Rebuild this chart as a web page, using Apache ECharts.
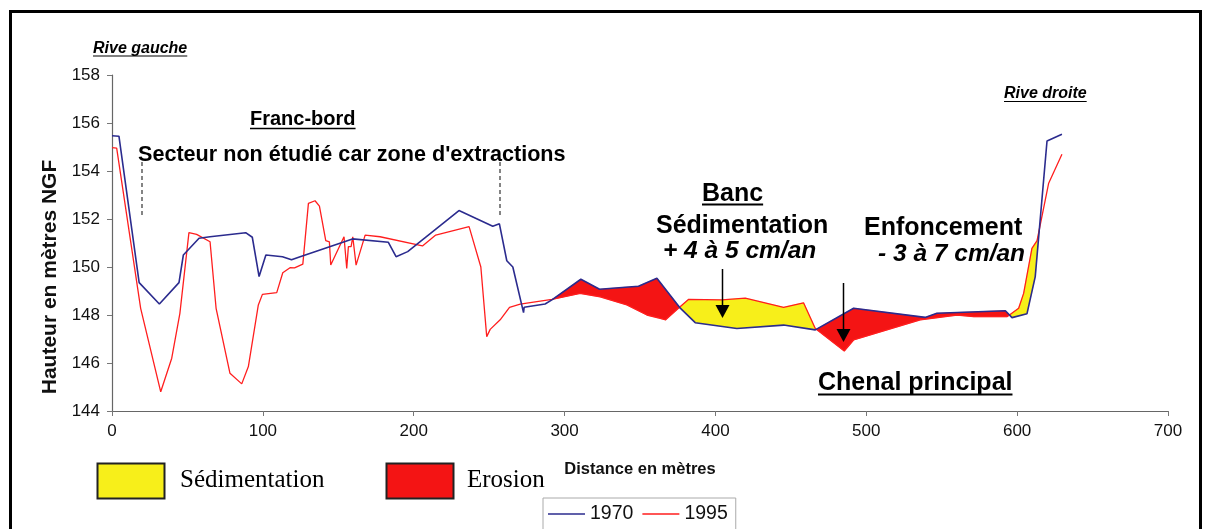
<!DOCTYPE html>
<html><head><meta charset="utf-8">
<script src="https://cdn.jsdelivr.net/npm/echarts@6/dist/echarts.min.js"></script>
<style>html,body{margin:0;padding:0;background:#fff}#c{width:1210px;height:529px}</style>
</head><body><div id="c"></div>
<script>
// ---- data (distance m, height m NGF) ----
const x1970 = [0, 4.6, 18, 31.4, 44.4, 47.3, 57.7, 65, 88.6, 93, 97.5, 102, 113, 119, 124.7, 159.4, 183.2, 188.3, 196, 230, 252.4, 256.8, 261.7, 265.7, 272.8, 273.2, 287.1, 291.6, 310.8, 323.2, 349, 361.2, 376.2, 386.6, 414.2, 445.2, 466.2, 491.6, 539, 546.8, 592.2, 596.6, 606.5, 612, 619.8, 629.7];
const y1970 = [155.47, 155.45, 149.35, 148.46, 149.35, 150.5, 151.2, 151.26, 151.43, 151.24, 149.6, 150.5, 150.43, 150.3, 150.43, 151.17, 151.03, 150.43, 150.64, 152.35, 151.7, 151.8, 150.26, 150.0, 148.1, 148.32, 148.46, 148.63, 149.49, 149.07, 149.2, 149.53, 148.32, 147.68, 147.44, 147.58, 147.38, 148.28, 147.9, 148.07, 148.18, 147.89, 148.05, 149.6, 155.25, 155.53];
const x1995 = [0, 3.1, 19, 32.3, 39.6, 45, 51, 56.1, 65, 69, 78.2, 86, 90.4, 97, 99.7, 109.2, 113.2, 118, 121, 126.5, 130.2, 134.6, 137.5, 141.7, 144.1, 145, 153.8, 155.6, 156.7, 158.5, 159.6, 161.8, 167.8, 177.7, 205.8, 214.6, 236.7, 244.5, 248.4, 250.7, 257.3, 263.5, 270.6, 291.6, 310.3, 323.6, 341.3, 354.6, 363.4, 367, 376.2, 382.1, 404.3, 419.8, 445.2, 458.4, 466.2, 485.4, 491.6, 535.8, 560.2, 571.2, 593.3, 601, 604.3, 609.8, 613.2, 620.9, 629.7];
const y1995 = [154.97, 154.95, 148.28, 144.8, 146.2, 148.07, 151.43, 151.36, 151.05, 148.28, 145.57, 145.13, 145.85, 148.42, 148.86, 148.93, 149.76, 149.97, 149.96, 150.12, 152.65, 152.76, 152.54, 151.1, 151.05, 150.08, 151.26, 149.94, 150.85, 150.85, 151.26, 150.08, 151.33, 151.26, 150.88, 151.33, 151.68, 150.0, 147.1, 147.4, 147.8, 148.32, 148.45, 148.65, 148.9, 148.76, 148.42, 148.0, 147.86, 147.8, 148.32, 148.65, 148.63, 148.7, 148.32, 148.51, 147.44, 146.5, 146.96, 147.8, 148.0, 147.93, 147.93, 148.28, 148.9, 150.78, 151.1, 153.49, 154.7];
const seriesNames = ['1970', '1995'];
const fillRange = [291.6, 625];   // studied zone where the two profiles are compared
const fillNames = ['Sédimentation', 'Erosion'];

// ---- fill polygons between the two profiles ----
function interp(xs, ys, x) {
  if (x <= xs[0]) return ys[0];
  for (let i = 1; i < xs.length; i++) {
    if (x <= xs[i]) return ys[i-1] + (ys[i]-ys[i-1]) * (x - xs[i-1]) / (xs[i]-xs[i-1]);
  }
  return ys[ys.length-1];
}
const b = x => interp(x1970, y1970, x);
const r = x => interp(x1995, y1995, x);
let bx = Array.from(new Set(x1970.concat(x1995).filter(x => x >= fillRange[0] && x <= fillRange[1]).concat(fillRange))).sort((a,c)=>a-c);
const polys = [];
let cur = [bx[0]];
let curSign = 0;
for (let i = 1; i < bx.length; i++) {
  const xa = bx[i-1], xb = bx[i];
  const da = b(xa) - r(xa), db = b(xb) - r(xb);
  const sb = Math.sign(db);
  if (curSign === 0) curSign = sb;
  if (sb !== 0 && sb !== curSign) {
    const xc = da === 0 ? xa : xa + (xb - xa) * da / (da - db);
    if (xc > cur[cur.length-1]) cur.push(xc);
    polys.push({sign: curSign, xs: cur});
    cur = [xc];
    curSign = sb;
  }
  cur.push(xb);
}
polys.push({sign: curSign, xs: cur});
// the last crossing on the right bank ends the compared zone
const shown = polys.filter(p => !(p.sign > 0 && p.xs[0] > 610));
shown.forEach(p => {
  p.pts = p.xs.map(x => [x, b(x)]).concat(p.xs.slice().reverse().map(x => [x, r(x)]));
  p.color = p.sign > 0 ? '#f41414' : '#f7ef1a';
});

// ---- helpers for annotations ----
const FONT = '"Liberation Sans", Arial, Helvetica, sans-serif';
const mctx = document.createElement('canvas').getContext('2d');
function tw(text, font) { mctx.font = font; return mctx.measureText(text).width; }
const graphics = [];
function addText(text, x, y, size, opts) {
  opts = opts || {};
  const weight = opts.weight || 'bold';
  const style = opts.italic ? 'italic' : 'normal';
  const fam = opts.family || FONT;
  graphics.push({type: 'text', x: x, y: y, silent: true, z: 50,
    style: {text: text, fill: '#000', fontSize: size, fontWeight: weight, fontStyle: style, fontFamily: fam, textAlign: 'left', textVerticalAlign: 'middle'}});
  if (opts.underline) {
    const w = tw(text, style + ' ' + weight + ' ' + size + 'px ' + fam);
    graphics.push({type: 'line', silent: true, z: 50, shape: {x1: x, y1: opts.underline, x2: x + w, y2: opts.underline}, style: {stroke: '#000', lineWidth: opts.ulw || 1.5}});
  }
}
function addArrow(x, y1, y2) {
  graphics.push({type: 'line', silent: true, z: 50, shape: {x1: x, y1: y1, x2: x, y2: y2 - 11}, style: {stroke: '#000', lineWidth: 1.5}});
  graphics.push({type: 'polygon', silent: true, z: 50, shape: {points: [[x-7, y2-13], [x+7, y2-13], [x, y2]]}, style: {fill: '#000'}});
}
// frame
graphics.push({type: 'rect', silent: true, z: 0, shape: {x: 10.5, y: 11.5, width: 1190, height: 600}, style: {fill: 'none', stroke: '#000', lineWidth: 3}});
addText('Rive gauche', 93, 49, 16, {italic: true, underline: 56, ulw: 1.2});
addText('Rive droite', 1004, 94, 16, {italic: true, underline: 101.5, ulw: 1.2});
addText('Franc-bord', 250, 119, 20, {underline: 128.5});
addText("Secteur non étudié car zone d'extractions", 138, 155, 21.6);
addText('Banc', 702, 194, 25, {underline: 204.5, ulw: 2});
addText('Sédimentation', 656, 226, 25);
addText('+ 4 à 5 cm/an', 663, 251, 24.5, {italic: true});
addText('Enfoncement', 864, 228, 25);
addText('- 3 à 7 cm/an', 878, 254, 24.5, {italic: true});
addText('Chenal principal', 818, 383, 25, {underline: 394.5, ulw: 2});
// dashed limits of the non-studied sector
graphics.push({type: 'line', silent: true, z: 50, shape: {x1: 142, y1: 162, x2: 142, y2: 217}, style: {stroke: '#333', lineWidth: 1.2, lineDash: [4, 3]}});
graphics.push({type: 'line', silent: true, z: 50, shape: {x1: 500, y1: 162, x2: 500, y2: 217}, style: {stroke: '#333', lineWidth: 1.2, lineDash: [4, 3]}});
addArrow(722.5, 269, 318);
addArrow(843.5, 283, 342);
// fill legend
graphics.push({type: 'rect', silent: true, z: 50, shape: {x: 97.5, y: 463.5, width: 67, height: 35}, style: {fill: '#f7ef1a', stroke: '#222', lineWidth: 2}});
addText(fillNames[0], 180, 480, 25, {weight: 'normal', family: '"Liberation Serif", "Times New Roman", serif'});
graphics.push({type: 'rect', silent: true, z: 50, shape: {x: 386.5, y: 463.5, width: 67, height: 35}, style: {fill: '#f41414', stroke: '#222', lineWidth: 2}});
addText(fillNames[1], 467, 480, 25, {weight: 'normal', family: '"Liberation Serif", "Times New Roman", serif'});

const chart = echarts.init(document.getElementById('c'), null, {renderer: 'canvas'});
chart.setOption({
  animation: false,
  backgroundColor: '#fff',
  grid: {left: 112, right: 42, top: 75, bottom: 118, containLabel: false},
  legend: {
    data: seriesNames.map(n => ({name: n, icon: 'rect'})),
    left: 543, top: 498, itemWidth: 37, itemHeight: 1.5, itemGap: 9,
    padding: [6, 8, 6, 5],
    borderColor: '#aaa', borderWidth: 1,
    textStyle: {fontSize: 19.5, color: '#111', fontFamily: FONT}
  },
  xAxis: {
    type: 'value', min: 0, max: 700, interval: 100,
    name: 'Distance en mètres', nameLocation: 'middle', nameGap: 50,
    nameTextStyle: {fontSize: 16.5, fontWeight: 'bold', color: '#111', fontFamily: FONT},
    axisLine: {lineStyle: {color: '#666', width: 1.2}},
    axisTick: {show: true, length: 5, lineStyle: {color: '#777'}},
    axisLabel: {fontSize: 17, color: '#111', margin: 12, fontFamily: FONT},
    splitLine: {show: false}
  },
  yAxis: {
    type: 'value', min: 144, max: 158, interval: 2,
    name: 'Hauteur en mètres NGF', nameLocation: 'middle', nameGap: 50,
    nameTextStyle: {fontSize: 21, fontWeight: 'bold', color: '#111', fontFamily: FONT, padding: [0, 68, 0, 0]},
    axisLine: {show: true, lineStyle: {color: '#666', width: 1.2}},
    axisTick: {show: true, length: 5, lineStyle: {color: '#777'}},
    axisLabel: {fontSize: 17, color: '#111', margin: 12, fontFamily: FONT},
    splitLine: {show: false}
  },
  graphic: graphics,
  series: [
    {type: 'custom', name: 'fill', silent: true, z: 1, coordinateSystem: 'cartesian2d',
      data: shown.map((p, i) => [p.xs[0], i]),
      encode: {x: 0, y: -1},
      renderItem: function (params, api) {
        const p = shown[params.dataIndex];
        return {type: 'polygon', shape: {points: p.pts.map(pt => api.coord(pt))}, style: {fill: p.color, stroke: p.color, lineWidth: 0.5}};
      }
    },
    {type: 'line', name: seriesNames[0], z: 3, symbol: 'none', color: '#2b2b8e',
      lineStyle: {width: 1.6, color: '#2b2b8e'},
      data: x1970.map((x, i) => [x, y1970[i]])},
    {type: 'line', name: seriesNames[1], z: 2, symbol: 'none', color: '#ff1e1e',
      lineStyle: {width: 1.3, color: '#ff1e1e'},
      data: x1995.map((x, i) => [x, y1995[i]])}
  ]
});
</script></body></html>
